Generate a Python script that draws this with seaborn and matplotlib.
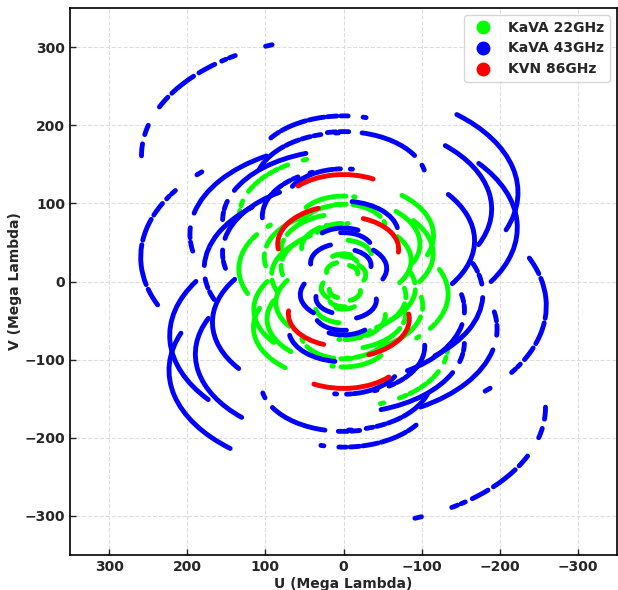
import matplotlib
matplotlib.use("Agg")
import matplotlib.pyplot as plt
from matplotlib.patches import Arc
from matplotlib.lines import Line2D
from matplotlib.transforms import Affine2D
import seaborn as sns

# KaVA baselines: semi-axis of the uv ellipse (Mega Lambda at 43 GHz),
# ellipse centre in V (Mega Lambda at 43 GHz) and track phase (deg)
bl_pairs = [("KYS", "KUS"), ("KYS", "KTN"), ("KUS", "KTN"), ("KYS", "MIZ"),
            ("KYS", "IRK"), ("KYS", "OGA"), ("KYS", "ISG"), ("KUS", "MIZ"),
            ("KUS", "IRK"), ("KUS", "OGA"), ("KUS", "ISG"), ("KTN", "MIZ"),
            ("KTN", "IRK"), ("KTN", "OGA"), ("KTN", "ISG"), ("MIZ", "IRK"),
            ("MIZ", "OGA"), ("MIZ", "ISG"), ("IRK", "OGA"), ("IRK", "ISG"),
            ("OGA", "ISG")]
bl_a = [35.3, 40.0, 42.1, 178.3, 70.0, 223.3, 114.0, 154.8, 37.1, 189.6, 112.7,
        196.5, 55.3, 222.4, 75.2, 154.7, 105.6, 258.5, 167.7, 103.9, 259.5]
bl_v0 = [-20.9, -44.9, -24.0, 15.9, -61.6, -113.8, -144.9, 36.8, -40.7, -92.9, -124.0,
         60.7, -16.7, -69.0, -100.0, -77.5, -129.7, -160.8, -52.2, -83.3, -31.1]
bl_psi = [-174.8, 117.7, 66.8, -131.0, 169.8, -158.7, 106.2, -121.9, 155.1, -155.8, 88.3,
          -120.1, -155.4, -148.1, 100.2, 71.9, 149.5, 70.8, -146.1, 69.1, 47.2]
axis_ratio = 0.588  # minor/major axis of every track

# hour-angle windows (deg) in which each station has data
win_43 = {
    "KYS": [(-160.8, -90.0)], "KUS": [(-160.8, -90.0)], "KTN": [(-160.8, -90.0)],
    "MIZ": [(-160.8, -145.9), (-136.5, -90.0), (-77.5, -71.5)],
    "IRK": [(-160.8, -90.0)],
    "OGA": [(-160.8, -90.0), (-77.5, -71.5)],
    "ISG": [(-160.8, -103.2), (-93.5, -91.5)],
}
win_22 = win_43
win_86 = {"KYS": [(-164.2, -89.4)], "KUS": [(-164.2, -89.4)], "KTN": [(-164.2, -89.4)]}

# breaks between scans (hour angle, deg), per station
breaks_43 = {
    "MIZ": [(-155.0, -152.3)],
    "ISG": [(-152.8, -150.5), (-131.2, -129.0), (-118.7, -116.5),
            (-110.4, -107.9), (-106.4, -105.2)],
}
breaks_22 = dict(breaks_43)
breaks_22["all"] = [(-148.0, -146.0), (-125.0, -123.0), (-114.0, -112.0), (-100.0, -98.0)]
breaks_86 = {}

bands = ["KaVA 22GHz", "KaVA 43GHz", "KVN 86GHz"]
band_scale = [0.516, 1.0, 2.0]
band_windows = [win_22, win_43, win_86]
band_breaks = [breaks_22, breaks_43, breaks_86]
band_colors = ["lime", "blue", "red"]


def overlap(w1, w2):
    out = []
    for a1, b1 in w1:
        for a2, b2 in w2:
            lo, hi = max(a1, a2), min(b1, b2)
            if hi > lo:
                out.append((lo, hi))
    return out


def cut(wins, breaks):
    for g1, g2 in breaks:
        new = []
        for lo, hi in wins:
            if g2 <= lo or g1 >= hi:
                new.append((lo, hi))
                continue
            if g1 > lo:
                new.append((lo, g1))
            if g2 < hi:
                new.append((g2, hi))
        wins = new
    return wins


sns.set_theme(style="white")
plt.rcParams["font.family"] = ["DejaVu Sans"]
fig = plt.figure(figsize=(6.18, 5.90), dpi=100)
ax = fig.add_axes([70 / 618, 35 / 590, 547 / 618, 547 / 590])
squash = Affine2D().scale(1, axis_ratio) + ax.transData

for band, scale, wins, brk, color in zip(bands, band_scale, band_windows, band_breaks, band_colors):
    for (s1, s2), a, v0, psi in zip(bl_pairs, bl_a, bl_v0, bl_psi):
        if s1 not in wins or s2 not in wins:
            continue
        gaps = brk.get(s1, []) + brk.get(s2, []) + brk.get("all", [])
        for h1, h2 in cut(overlap(wins[s1], wins[s2]), gaps):
            for side in (1, -1):
                off = 0 if side == 1 else 180
                arc = Arc((0, side * scale * v0 / axis_ratio), 2 * scale * a, 2 * scale * a,
                          theta1=h1 + psi - 90 + off, theta2=h2 + psi - 90 + off,
                          transform=squash, color=color, lw=3.5, capstyle="round")
                ax.add_patch(arc)

ax.set_xlim(350, -350)
ax.set_ylim(-350, 350)
ax.grid(True, ls="--", color="#dddddd", lw=0.8)
ax.set_axisbelow(True)
for sp in ax.spines.values():
    sp.set_color("black")
    sp.set_linewidth(1.2)
ax.tick_params(direction="in", length=4, width=1, labelsize=10, bottom=True, left=True)
for lab in ax.get_xticklabels() + ax.get_yticklabels():
    lab.set_fontweight("bold")
ax.set_xlabel("U (Mega Lambda)", fontsize=10, fontweight="bold", labelpad=2)
ax.set_ylabel("V (Mega Lambda)", fontsize=10, fontweight="bold", labelpad=2)

handles = [Line2D([], [], marker="o", ls="", color=c, markersize=9) for c in band_colors]
leg = ax.legend(handles, bands, loc="upper right", prop={"weight": "bold", "size": 10},
                frameon=True, edgecolor="#cccccc")

fig.savefig("out.png", dpi=100)
